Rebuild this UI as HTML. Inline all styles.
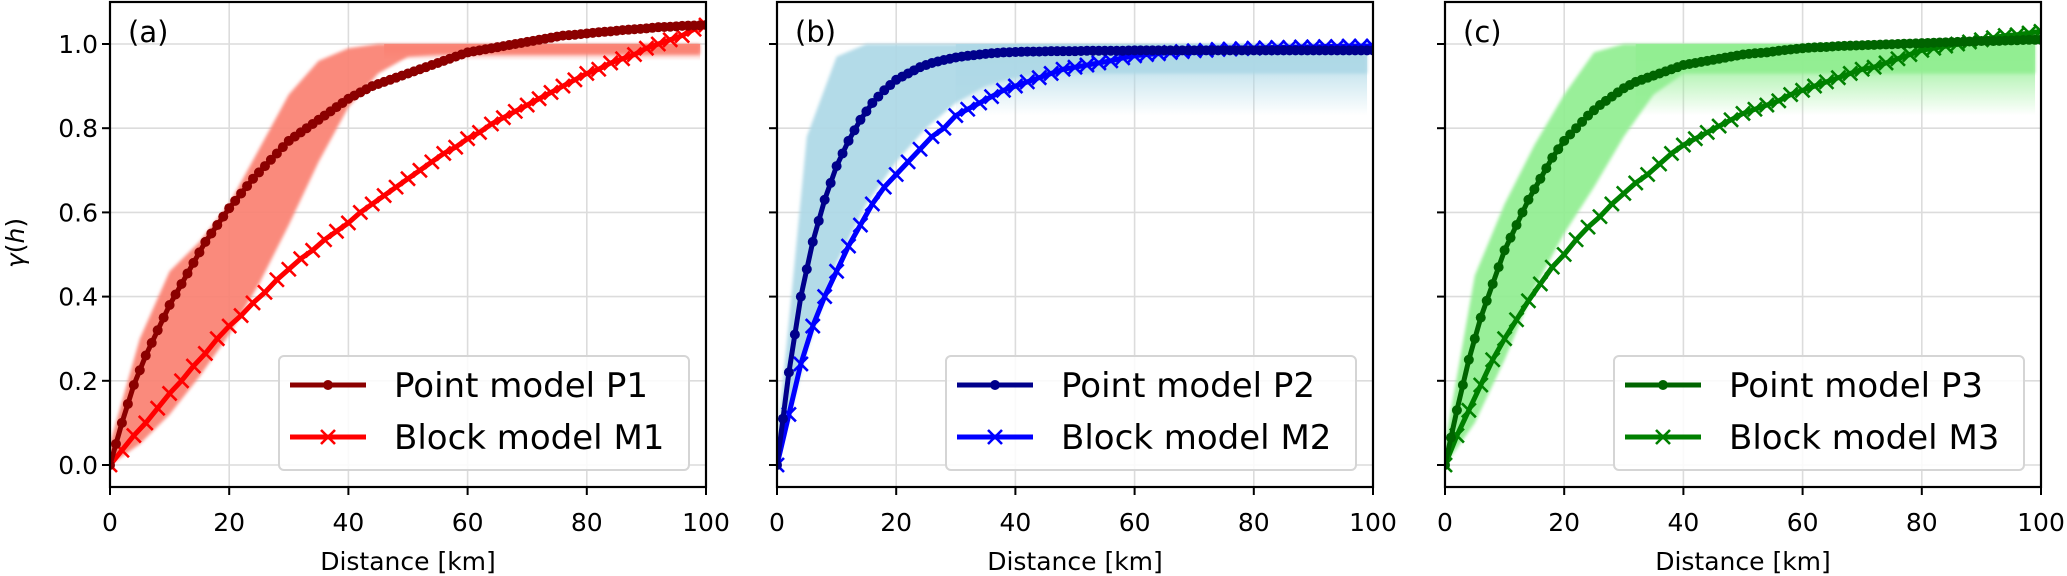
<!DOCTYPE html>
<html><head><meta charset="utf-8">
<style>
html,body{margin:0;padding:0;background:#fff;}
svg{display:block;font-family:"DejaVu Sans","Liberation Sans",sans-serif;}
</style></head>
<body>
<svg id="chart" width="2067" height="576" viewBox="0 0 2067 576" xmlns="http://www.w3.org/2000/svg"></svg>
<script>
// ---- data ----
const xTicks = [0, 20, 40, 60, 80, 100];
const yTicks = [0.0, 0.2, 0.4, 0.6, 0.8, 1.0];
const yTickLabels = ["0.0", "0.2", "0.4", "0.6", "0.8", "1.0"];
const panelLabels = ["(a)", "(b)", "(c)"];
const lagsFine = [0,2,4,6,8,10,12,14,16,18,20,22,24,26,28,30,32,34,36,38,40,42,44,46,48,50,52,54,56,58,60,62,64,66,68,70,72,74,76,78,80,82,84,86,88,90,92,94,96,98,100];
const lagsBand = [0,5,10,15,20,25,30,35,40,45,50,55,60,65,70,75,80,85,90,95,99];

const pointP1 = [0,0.10,0.19,0.26,0.32,0.38,0.43,0.48,0.53,0.57,0.61,0.645,0.68,0.71,0.74,0.77,0.79,0.81,0.83,0.85,0.87,0.885,0.90,0.91,0.92,0.93,0.94,0.95,0.96,0.97,0.98,0.985,0.99,0.995,1.0,1.005,1.01,1.015,1.02,1.022,1.025,1.028,1.03,1.033,1.035,1.037,1.04,1.041,1.043,1.044,1.045];
const blockM1 = [0,0.035,0.07,0.10,0.135,0.17,0.20,0.235,0.265,0.30,0.33,0.355,0.385,0.41,0.44,0.465,0.49,0.51,0.535,0.555,0.575,0.60,0.62,0.64,0.66,0.68,0.70,0.72,0.74,0.755,0.775,0.79,0.81,0.825,0.84,0.855,0.87,0.885,0.90,0.915,0.93,0.94,0.955,0.965,0.975,0.99,1.0,1.01,1.02,1.035,1.045];
const pointP2 = [0,0.22,0.40,0.53,0.63,0.71,0.77,0.82,0.86,0.89,0.915,0.93,0.945,0.955,0.962,0.968,0.972,0.975,0.978,0.98,0.981,0.982,0.982,0.983,0.983,0.983,0.984,0.984,0.984,0.984,0.985,0.985,0.985,0.985,0.985,0.985,0.985,0.985,0.985,0.985,0.985,0.985,0.985,0.985,0.985,0.985,0.985,0.985,0.985,0.985,0.985];
const blockM2 = [0,0.12,0.24,0.33,0.40,0.46,0.52,0.57,0.62,0.66,0.69,0.72,0.75,0.78,0.80,0.83,0.845,0.86,0.875,0.89,0.90,0.91,0.92,0.93,0.94,0.945,0.95,0.955,0.96,0.967,0.972,0.975,0.977,0.98,0.982,0.984,0.985,0.987,0.988,0.989,0.99,0.991,0.992,0.992,0.993,0.993,0.994,0.994,0.995,0.995,0.995];
const pointP3 = [0,0.13,0.25,0.35,0.43,0.51,0.57,0.63,0.68,0.73,0.77,0.80,0.83,0.855,0.875,0.895,0.91,0.92,0.93,0.94,0.95,0.955,0.96,0.965,0.97,0.975,0.978,0.98,0.984,0.987,0.99,0.992,0.993,0.995,0.996,0.997,0.998,0.999,1.0,1.001,1.002,1.003,1.004,1.005,1.006,1.007,1.007,1.008,1.009,1.01,1.01];
const blockM3 = [0,0.07,0.13,0.19,0.25,0.30,0.345,0.39,0.43,0.47,0.50,0.535,0.565,0.59,0.62,0.645,0.67,0.69,0.715,0.74,0.76,0.775,0.79,0.805,0.82,0.835,0.845,0.855,0.865,0.88,0.89,0.90,0.91,0.92,0.93,0.94,0.945,0.955,0.965,0.975,0.985,0.99,0.995,1.0,1.005,1.01,1.015,1.02,1.022,1.026,1.03];

const bandUpperA = [0.05,0.30,0.46,0.53,0.62,0.75,0.88,0.96,0.99,1.0,1.0,1.0,1.0,1.0,1.0,1.0,1.0,1.0,1.0,1.0,1.0];
const bandLowerA = [0,0.05,0.12,0.21,0.31,0.43,0.57,0.72,0.85,0.93,0.97,0.975,0.975,0.975,0.975,0.975,0.975,0.975,0.975,0.975,0.975];
const bandUpperB = [0.05,0.78,0.97,1.0,1.0,1.0,1.0,1.0,1.0,1.0,1.0,1.0,1.0,1.0,1.0,1.0,1.0,1.0,1.0,1.0,1.0];
const bandLowerB = [0,0.27,0.48,0.62,0.72,0.80,0.86,0.90,0.92,0.93,0.93,0.93,0.93,0.93,0.93,0.93,0.93,0.93,0.93,0.93,0.93];
const bandUpperC = [0.05,0.45,0.62,0.76,0.88,0.98,1.0,1.0,1.0,1.0,1.0,1.0,1.0,1.0,1.0,1.0,1.0,1.0,1.0,1.0,1.0];
const bandLowerC = [0,0.10,0.25,0.42,0.55,0.66,0.78,0.88,0.93,0.93,0.93,0.93,0.93,0.93,0.93,0.93,0.93,0.93,0.93,0.93,0.93];
const fadeLowA = 0.96, fadeLowB = 0.83, fadeLowC = 0.83;
const fadeStartA = 46, fadeStartB = 30, fadeStartC = 32;
const legendNames = [["Point model P1","Block model M1"],["Point model P2","Block model M2"],["Point model P3","Block model M3"]];

// ---- layout ----
const NS = "http://www.w3.org/2000/svg";
const svg = document.getElementById("chart");
const panelLefts = [110, 777, 1445];
const PW = 596, Y0 = 465, YS = 421, TOP = 2, BOT = 487;
function mk(tag, attrs, parent){ const e=document.createElementNS(NS,tag); for(const k in attrs) e.setAttribute(k,attrs[k]); (parent||svg).appendChild(e); return e; }
const defs = mk("defs",{});
const blur = mk("filter", {id:"soft", x:"-5%", y:"-5%", width:"110%", height:"110%"}, defs);
mk("feGaussianBlur", {stdDeviation:1.5}, blur);

const panels = [
 {point:pointP1, block:blockM1, up:bandUpperA, lo:bandLowerA, fade:fadeLowA, fs:fadeStartA, band:"#fa8072", pc:"#8b0000", bc:"#ff0000"},
 {point:pointP2, block:blockM2, up:bandUpperB, lo:bandLowerB, fade:fadeLowB, fs:fadeStartB, band:"#add8e6", pc:"#00008b", bc:"#0000ff"},
 {point:pointP3, block:blockM3, up:bandUpperC, lo:bandLowerC, fade:fadeLowC, fs:fadeStartC, band:"#90ee90", pc:"#006400", bc:"#008000"}
];

panels.forEach((p, i) => {
  const L = panelLefts[i];
  const xs = h => L + h * PW / 100;
  const ys = v => Y0 - v * YS;
  const g = mk("g", {});
  
  
  const clipId = "clip" + i;
  const cp = mk("clipPath", {id: clipId}, defs);
  mk("rect", {x:L, y:TOP, width:PW, height:BOT-TOP}, cp);

  const grid = mk("g", {stroke:"#dcdcdc", "stroke-width":1.6}, g);
  
  
  xTicks.forEach(t => mk("line", {x1:xs(t), x2:xs(t), y1:TOP, y2:BOT}, grid));
  yTicks.forEach(t => mk("line", {x1:L, x2:L+PW, y1:ys(t), y2:ys(t)}, grid));

  const plot = mk("g", {"clip-path":"url(#"+clipId+")"}, g);
  const gid = "fade" + i;
  const lg = mk("linearGradient", {id:gid, x1:0, y1:0, x2:0, y2:1}, defs);
  mk("stop", {offset:"0", "stop-color":p.band, "stop-opacity":0.9}, lg);
  mk("stop", {offset:"0.35", "stop-color":p.band, "stop-opacity":0.7}, lg);
  mk("stop", {offset:"1", "stop-color":p.band, "stop-opacity":0}, lg);
  const fr = mk("rect", {x:xs(p.fs), y:ys(1.0), width:xs(99)-xs(p.fs), height:ys(p.fade)-ys(1.0), fill:"url(#"+gid+")"}, plot);
  
  
  let pts = lagsBand.map((h,k) => xs(h)+","+ys(p.up[k]));
  pts = pts.concat(lagsBand.map((h,k) => xs(h)+","+ys(p.lo[k])).reverse());
  const band = mk("polygon", {points:pts.join(" "), fill:p.band, "fill-opacity":0.92, filter:"url(#soft)"}, plot);
  
  

  const bl = mk("polyline", {points:lagsFine.map((h,k)=>xs(h)+","+ys(p.block[k])).join(" "), fill:"none", stroke:p.bc, "stroke-width":5, "stroke-linejoin":"round"}, plot);
  
  
  lagsFine.forEach((h,k) => {
    const cx = xs(h), cy = ys(p.block[k]), s = 7;
    const c = mk("path", {d:`M${cx-s},${cy-s}L${cx+s},${cy+s}M${cx-s},${cy+s}L${cx+s},${cy-s}`, stroke:p.bc, "stroke-width":2.6}, plot);
    
    
  });
  const pl = mk("polyline", {points:lagsFine.map((h,k)=>xs(h)+","+ys(p.point[k])).join(" "), fill:"none", stroke:p.pc, "stroke-width":5, "stroke-linejoin":"round"}, plot);
  
  
  lagsFine.forEach((h,k) => {
    const d = mk("circle", {cx:xs(h), cy:ys(p.point[k]), r:5, fill:p.pc}, plot);
    
    
    if (k < lagsFine.length-1) {
      const d2 = mk("circle", {cx:(xs(h)+xs(lagsFine[k+1]))/2, cy:(ys(p.point[k])+ys(p.point[k+1]))/2, r:5, fill:p.pc}, plot);
      
      
    }
  });

  const fr2 = mk("rect", {x:L, y:TOP, width:PW, height:BOT-TOP, fill:"none", stroke:"#000", "stroke-width":2.2}, g);
  
  

  xTicks.forEach(t => {
    mk("line", {x1:xs(t), x2:xs(t), y1:BOT, y2:BOT+8, stroke:"#000", "stroke-width":2}, g);
    const tx = mk("text", {x:xs(t), y:531, "font-size":25, "text-anchor":"middle"}, g);
    tx.textContent = t;
    
    
  });
  yTicks.forEach((t,k) => {
    mk("line", {x1:L-8, x2:L, y1:ys(t), y2:ys(t), stroke:"#000", "stroke-width":2}, g);
    if (i === 0) {
      const ty = mk("text", {x:L-12, y:ys(t)+9, "font-size":25, "text-anchor":"end"}, g);
      ty.textContent = yTickLabels[k];
      
      
    }
  });
  const xl = mk("text", {x:L+PW/2, y:570, "font-size":25, "text-anchor":"middle"}, g);
  xl.textContent = "Distance [km]";
  
  

  const pl2 = mk("text", {x:L+18, y:42, "font-size":29}, g);
  pl2.textContent = panelLabels[i];
  
  

  const lgL = L + 169, lgT = 356;
  const leg = mk("g", {}, g);
  
  
  mk("rect", {x:lgL, y:lgT, width:410, height:114, rx:5, fill:"#fff", "fill-opacity":0.85, stroke:"#d5d5d5", "stroke-width":2}, leg);
  [0,1].forEach(r => {
    const cy = r === 0 ? 385 : 437;
    const col = r === 0 ? p.pc : p.bc;
    const e = mk("g", {}, leg);
    
    
    mk("line", {x1:lgL+11, x2:lgL+87, y1:cy, y2:cy, stroke:col, "stroke-width":5}, e);
    const mx = lgL+49;
    if (r === 0) mk("circle", {cx:mx, cy:cy, r:5, fill:col}, e);
    else mk("path", {d:`M${mx-7},${cy-7}L${mx+7},${cy+7}M${mx-7},${cy+7}L${mx+7},${cy-7}`, stroke:col, "stroke-width":2.6}, e);
    const t = mk("text", {x:lgL+115, y:cy+12, "font-size":34}, e);
    t.textContent = legendNames[i][r];
  });
});

const yl = mk("text", {x:0, y:0, "font-size":25, "text-anchor":"middle", transform:"translate(24,243) rotate(-90)"});
yl.innerHTML = '<tspan font-style="italic">γ</tspan>(<tspan font-style="italic">h</tspan>)';


</script>
</body></html>
